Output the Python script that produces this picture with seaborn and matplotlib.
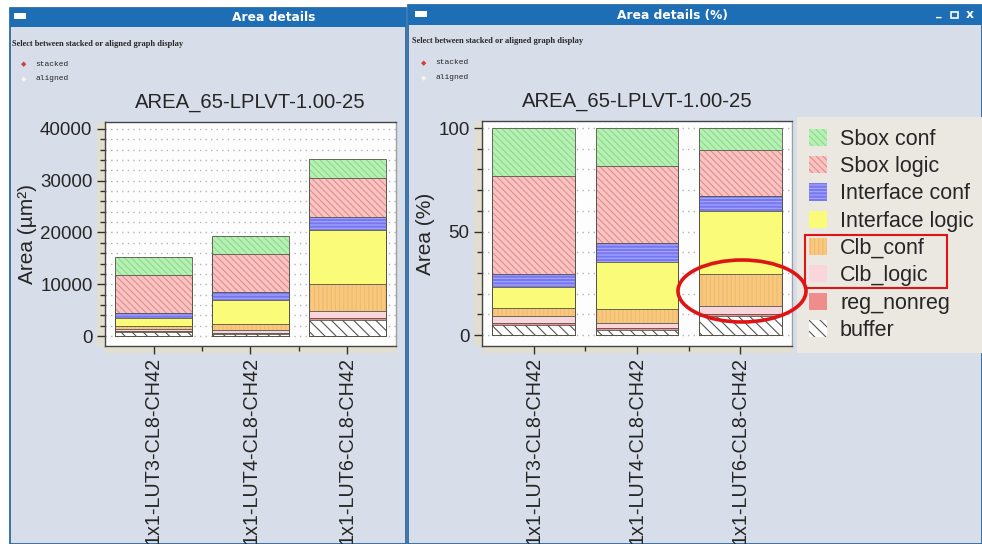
import numpy as np
import pandas as pd
import matplotlib.pyplot as plt
import seaborn as sns
from matplotlib.patches import Patch, Rectangle, Ellipse

configs = ['1x1-LUT3-CL8-CH42', '1x1-LUT4-CL8-CH42', '1x1-LUT6-CL8-CH42']

# area of each component (um^2), bottom of the stack first
buffer = [760, 470, 3100]
reg_nonreg = [120, 195, 300]
clb_logic = [490, 470, 1450]
clb_conf = [660, 1280, 5250]
interface_logic = [1500, 4470, 10300]
interface_conf = [960, 1710, 2500]
sbox_logic = [7220, 7270, 7700]
sbox_conf = [3570, 3540, 3550]

components = ['buffer', 'reg_nonreg', 'Clb_logic', 'Clb_conf',
              'Interface logic', 'Interface conf', 'Sbox logic', 'Sbox conf']

# face colour, hatch colour, hatch
styles = {
    'Sbox conf': ('#b6f0b4', '#8cdc8c', '\\\\\\\\\\'),
    'Sbox logic': ('#f6c4c2', '#ea8a8a', '\\\\\\\\\\'),
    'Interface conf': ('#7878f0', '#a8a8ff', '-----'),
    'Interface logic': ('#fbfb7a', '#fbfb7a', ''),
    'Clb_conf': ('#f8c87e', '#efbb6c', '||||'),
    'Clb_logic': ('#f8d6dc', '#f8d6dc', ''),
    'reg_nonreg': ('#ef8c8c', '#ef8c8c', ''),
    'buffer': ('#ffffff', '#555555', '\\\\\\'),
}

df = pd.DataFrame({'config': configs, 'buffer': buffer, 'reg_nonreg': reg_nonreg,
                   'Clb_logic': clb_logic, 'Clb_conf': clb_conf,
                   'Interface logic': interface_logic, 'Interface conf': interface_conf,
                   'Sbox logic': sbox_logic, 'Sbox conf': sbox_conf})

cum_abs = df[components].cumsum(axis=1)
cum_abs['config'] = configs
cum_pct = df[components].cumsum(axis=1).div(df[components].sum(axis=1), axis=0) * 100
cum_pct['config'] = configs

sns.set_theme(style="ticks")
plt.rcParams['font.family'] = ['Liberation Sans', 'DejaVu Sans']
plt.rcParams['hatch.linewidth'] = 0.8

W, H = 982, 544
fig = plt.figure(figsize=(W / 100, H / 100), dpi=100)
fig.patch.set_facecolor('white')


def box(x0, y0, x1, y1, **kw):
    r = Rectangle((x0 / W, 1 - y1 / H), (x1 - x0) / W, (y1 - y0) / H,
                  transform=fig.transFigure, **kw)
    fig.add_artist(r)
    return r


def ftext(x, y, s, **kw):
    fig.text(x / W, 1 - y / H, s, **kw)


def px_axes(x0, y0, x1, y1):
    return fig.add_axes([x0 / W, 1 - y1 / H, (x1 - x0) / W, (y1 - y0) / H])


# windows
bg = '#d8dee9'
bar_blue = '#1e6eb6'
box(10, 8, 406, 544, facecolor=bg, edgecolor='#1d5f9c', lw=1.2, zorder=-3)
box(408, 5, 982, 544, facecolor=bg, edgecolor='#1d5f9c', lw=1.2, zorder=-3)
box(10, 8, 406, 27, facecolor=bar_blue, edgecolor='none', zorder=-2)
box(408, 5, 982, 25, facecolor=bar_blue, edgecolor='none', zorder=-2)
box(14, 13, 26, 19, facecolor='white', edgecolor='none', zorder=-1)
box(415, 11, 427, 17, facecolor='white', edgecolor='none', zorder=-1)
ftext(274, 17.5, 'Area details', color='white', fontsize=8.8, fontweight='bold',
      family='DejaVu Sans', ha='center', va='center')
ftext(672, 15, 'Area details (%)', color='white', fontsize=8.8, fontweight='bold',
      family='DejaVu Sans', ha='center', va='center')
ftext(939, 13, '_', color='white', fontsize=8, fontweight='bold', family='DejaVu Sans',
      ha='center', va='center')
box(951, 12, 958, 18, facecolor='none', edgecolor='white', lw=1.2, zorder=-1)
ftext(970, 15, 'x', color='white', fontsize=9, fontweight='bold', family='DejaVu Sans',
      ha='center', va='center')

for x0, ys in [(12, (44, 64, 79)), (412, (41, 63, 78))]:
    ftext(x0, ys[0], 'Select between stacked or aligned graph display', fontsize=6,
          fontweight='bold', family='Liberation Serif', va='center')
    ftext(x0 + 23, ys[1], 'stacked', fontsize=5.8, family='Liberation Mono', va='center')
    ftext(x0 + 23, ys[2], 'aligned', fontsize=5.8, family='Liberation Mono', va='center')
    fig.text((x0 + 12) / W, 1 - ys[1] / H, '\u25c6', fontsize=5, color='#d04040',
             family='DejaVu Sans', ha='center', va='center')
    fig.text((x0 + 12) / W, 1 - ys[2] / H, '\u25c6', fontsize=5, color='#f4f4f4',
             family='DejaVu Sans', ha='center', va='center')

# beige tick bands
band = '#e3dfd0'
box(97, 122, 105, 346, facecolor=band, edgecolor='none', zorder=-1)
box(105, 346, 396, 353, facecolor=band, edgecolor='none', zorder=-1)
box(474, 121, 482, 346, facecolor=band, edgecolor='none', zorder=-1)
box(482, 346, 792, 353, facecolor=band, edgecolor='none', zorder=-1)


def stacked(ax, table):
    for name in reversed(components):
        face, hcol, hatch = styles[name]
        sns.barplot(data=table, x='config', y=name, color=face, saturation=1,
                    edgecolor=hcol, hatch=hatch, linewidth=0, width=0.8,
                    errorbar=None, ax=ax)
    for name in reversed(components):
        sns.barplot(data=table, x='config', y=name, color='#55554a', fill=False,
                    linewidth=0.6, width=0.8, errorbar=None, ax=ax)


def style_axes(ax, major, minor, ylim):
    ax.set_facecolor('#fdfdfd')
    ax.set_xlim(-0.5, 2.5)
    ax.set_ylim(*ylim)
    ax.set_yticks(major)
    ax.set_yticks(minor, minor=True)
    ax.set_xticks([0, 1, 2])
    ax.set_xticklabels(configs, rotation=90, fontsize=14.2)
    ax.set_xticks([0.5, 1.5], minor=True)
    ax.tick_params(axis='y', labelsize=13.5, length=6, width=1, pad=3, color='#303030')
    ax.tick_params(axis='y', which='minor', length=3.5, width=1, color='#303030')
    ax.tick_params(axis='x', length=6, width=1, pad=2, color='#303030')
    ax.tick_params(axis='x', which='minor', length=3.5, width=1, color='#303030')
    ax.grid(axis='y', which='both', color='#b4b4b4', linestyle=(0, (1, 3)), linewidth=1)
    ax.set_axisbelow(True)
    ax.set_xlabel('')
    for side, sp in ax.spines.items():
        sp.set_visible(True)
        sp.set_color('#454545' if side in ('left', 'bottom', 'top') else '#a0a0a0')
        sp.set_linewidth(1)


ax1 = px_axes(105, 122, 396, 346)
stacked(ax1, cum_abs)
style_axes(ax1, [0, 10000, 20000, 30000, 40000], np.arange(0, 41000, 2000), (-1930, 41350))
ax1.set_ylabel('Area (\u00b5m\u00b2)', fontsize=15, labelpad=2)
ax1.set_title('AREA_65-LPLVT-1.00-25', fontsize=14.6, pad=10)

ax2 = px_axes(482, 121, 792, 346)
stacked(ax2, cum_pct)
style_axes(ax2, [0, 50, 100], np.arange(0, 101, 10), (-5.3, 103.4))
ax2.set_ylabel('Area (%)', fontsize=15, labelpad=2)
ax2.set_title('AREA_65-LPLVT-1.00-25', fontsize=14.6, pad=10)

handles = [Patch(facecolor=styles[n][0], edgecolor=styles[n][1], hatch=styles[n][2],
                 linewidth=0) for n in reversed(components)]
leg = fig.legend(handles, list(reversed(components)), loc='upper left',
                 bbox_to_anchor=(797 / W, 1 - 117 / H), borderaxespad=0,
                 fontsize=15.5, frameon=True, fancybox=False, framealpha=1,
                 facecolor='#ebe8e1', edgecolor='none', handlelength=0.85,
                 handleheight=0.85, handletextpad=0.6, borderpad=0.55,
                 labelspacing=0.29)

# red highlight marks
fig.add_artist(Ellipse((742 / W, 1 - 291 / H), 128 / W, 62 / H, transform=fig.transFigure,
                       facecolor='none', edgecolor='#e01414', lw=2.6, zorder=10))
box(805, 235, 947, 288, facecolor='none', edgecolor='#e01414', lw=1.5, zorder=10)

fig.savefig('out.png', dpi=100, facecolor=fig.get_facecolor())
